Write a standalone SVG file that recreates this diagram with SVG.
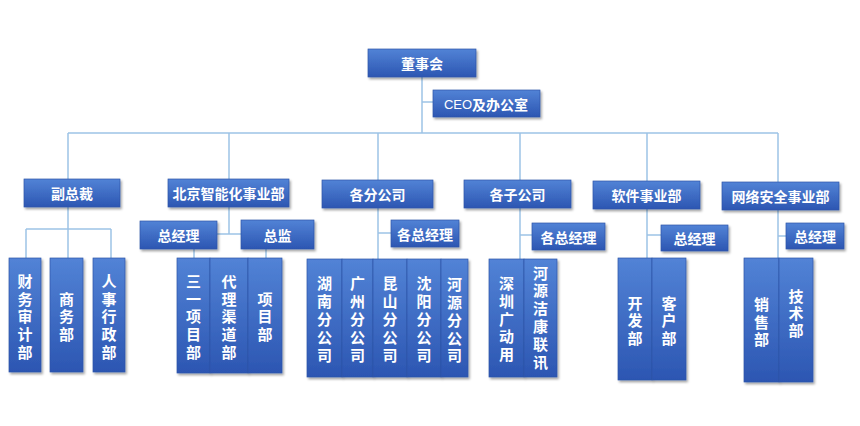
<svg xmlns="http://www.w3.org/2000/svg" width="860" height="426" viewBox="0 0 860 426">
<defs>
<linearGradient id="g" x1="0" y1="0" x2="0" y2="1">
<stop offset="0" stop-color="#5283d6"/>
<stop offset="1" stop-color="#2c56b2"/>
</linearGradient>
<filter id="sh" x="-20%" y="-20%" width="140%" height="140%">
<feDropShadow dx="1.5" dy="2" stdDeviation="1.3" flood-color="#000" flood-opacity="0.35"/>
</filter>
<style>
.b{fill:url(#g);stroke:#2f55a8;stroke-width:0.7;filter:url(#sh)}
.t{fill:#fff;font-family:"Noto Sans CJK SC","Noto Sans",sans-serif;font-weight:bold;font-size:14px;text-anchor:middle;dominant-baseline:central}
.v{fill:#fff;font-family:"Noto Sans CJK SC","Noto Sans",sans-serif;font-weight:bold;font-size:15px;text-anchor:middle;dominant-baseline:central}
.c{fill:none;stroke:#9dc3e6;stroke-width:1.5}
</style>
</defs>
<rect width="860" height="426" fill="#fff"/>
<g id="connectors">
<path class="c" d="M422 77V133M422 102H433M68 133H778M68 133V180M229 133V180M378 133V180M520 133V180M647 133V181M778 133V182"/>
<path class="c" d="M68 207V229M26 229H111M26 229V258M68 229V258M111 229V258"/>
<path class="c" d="M229 207V234M217 234H241M194 249V258M266 249V258"/>
<path class="c" d="M378 208V259M378 233H391"/>
<path class="c" d="M520 208V259M520 235H532"/>
<path class="c" d="M647 209V258M647 235H661"/>
<path class="c" d="M778 210V258M778 236H786"/>
</g>
<g id="board"><rect class="b" x="368" y="49" width="108" height="28"/><text class="t" x="422" y="63">董事会</text></g>
<g id="ceo"><rect class="b" x="433" y="90" width="107" height="27"/><text class="t" x="486" y="103.5"><tspan font-weight="normal" font-family="Liberation Sans,sans-serif" font-size="13">CEO</tspan>及办公室</text></g>
<g id="vp"><rect class="b" x="24" y="179" width="96" height="28"/><text class="t" x="72" y="193">副总裁</text></g>
<g id="beijing"><rect class="b" x="168" y="179" width="121" height="28"/><text class="t" x="228.5" y="193">北京智能化事业部</text></g>
<g id="branches"><rect class="b" x="322" y="180" width="111" height="28"/><text class="t" x="377.5" y="194">各分公司</text></g>
<g id="subsidiaries"><rect class="b" x="464" y="180" width="107" height="28"/><text class="t" x="517.5" y="194">各子公司</text></g>
<g id="software"><rect class="b" x="593" y="181" width="107" height="28"/><text class="t" x="646.5" y="195">软件事业部</text></g>
<g id="netsec"><rect class="b" x="722" y="182" width="117" height="28"/><text class="t" x="780.5" y="196">网络安全事业部</text></g>

<g id="bj-gm"><rect class="b" x="140" y="221" width="77" height="28"/><text class="t" x="178.5" y="235">总经理</text></g>
<g id="bj-dir"><rect class="b" x="241" y="220" width="73" height="29"/><text class="t" x="277.5" y="234.5">总监</text></g>
<g id="br-gm"><rect class="b" x="391" y="220" width="68" height="27"/><text class="t" x="425" y="233.5">各总经理</text></g>
<g id="sub-gm"><rect class="b" x="532" y="223" width="73" height="27"/><text class="t" x="568.5" y="236.5">各总经理</text></g>
<g id="sw-gm"><rect class="b" x="661" y="225" width="67" height="26"/><text class="t" x="694.5" y="238">总经理</text></g>
<g id="ns-gm"><rect class="b" x="786" y="223" width="58" height="26"/><text class="t" x="815" y="236">总经理</text></g>

<g id="finance"><rect class="b" x="9" y="258" width="32" height="114"/><text class="v"><tspan x="25" y="280">财</tspan><tspan x="25" y="298">务</tspan><tspan x="25" y="315">审</tspan><tspan x="25" y="333">计</tspan><tspan x="25" y="351">部</tspan></text></g>
<g id="business"><rect class="b" x="50" y="258" width="33" height="114"/><text class="v"><tspan x="66.5" y="298">商</tspan><tspan x="66.5" y="315">务</tspan><tspan x="66.5" y="333">部</tspan></text></g>
<g id="hr"><rect class="b" x="93" y="258" width="32" height="114"/><text class="v"><tspan x="109" y="280">人</tspan><tspan x="109" y="298">事</tspan><tspan x="109" y="315">行</tspan><tspan x="109" y="333">政</tspan><tspan x="109" y="351">部</tspan></text></g>

<g id="sany"><rect class="b" x="177" y="258" width="33" height="115"/><text class="v"><tspan x="193.5" y="280">三</tspan><tspan x="193.5" y="298">一</tspan><tspan x="193.5" y="315">项</tspan><tspan x="193.5" y="333">目</tspan><tspan x="193.5" y="351">部</tspan></text></g>
<g id="agent"><rect class="b" x="210" y="258" width="38" height="115"/><text class="v"><tspan x="229" y="280">代</tspan><tspan x="229" y="298">理</tspan><tspan x="229" y="315">渠</tspan><tspan x="229" y="333">道</tspan><tspan x="229" y="351">部</tspan></text></g>
<g id="project"><rect class="b" x="248" y="258" width="34" height="115"/><text class="v"><tspan x="265" y="298">项</tspan><tspan x="265" y="315">目</tspan><tspan x="265" y="333">部</tspan></text></g>

<g id="hunan"><rect class="b" x="307" y="259" width="35" height="118"/><text class="v"><tspan x="324.5" y="282">湖</tspan><tspan x="324.5" y="300">南</tspan><tspan x="324.5" y="318">分</tspan><tspan x="324.5" y="336">公</tspan><tspan x="324.5" y="354">司</tspan></text></g>
<g id="guangzhou"><rect class="b" x="342" y="259" width="31" height="118"/><text class="v"><tspan x="357.5" y="282">广</tspan><tspan x="357.5" y="300">州</tspan><tspan x="357.5" y="318">分</tspan><tspan x="357.5" y="336">公</tspan><tspan x="357.5" y="354">司</tspan></text></g>
<g id="kunshan"><rect class="b" x="373" y="259" width="34" height="118"/><text class="v"><tspan x="390" y="282">昆</tspan><tspan x="390" y="300">山</tspan><tspan x="390" y="318">分</tspan><tspan x="390" y="336">公</tspan><tspan x="390" y="354">司</tspan></text></g>
<g id="shenyang"><rect class="b" x="407" y="259" width="34" height="118"/><text class="v"><tspan x="424" y="282">沈</tspan><tspan x="424" y="300">阳</tspan><tspan x="424" y="318">分</tspan><tspan x="424" y="336">公</tspan><tspan x="424" y="354">司</tspan></text></g>
<g id="heyuan"><rect class="b" x="441" y="259" width="27" height="118"/><text class="v"><tspan x="454.5" y="283">河</tspan><tspan x="454.5" y="301">源</tspan><tspan x="454.5" y="319">分</tspan><tspan x="454.5" y="337">公</tspan><tspan x="454.5" y="354">司</tspan></text></g>

<g id="shenzhen"><rect class="b" x="489" y="259" width="35" height="118"/><text class="v"><tspan x="506.5" y="282">深</tspan><tspan x="506.5" y="300">圳</tspan><tspan x="506.5" y="318">广</tspan><tspan x="506.5" y="335">动</tspan><tspan x="506.5" y="353">用</tspan></text></g>
<g id="heyuan-jk"><rect class="b" x="524" y="259" width="33" height="118"/><text class="v"><tspan x="540.5" y="272">河</tspan><tspan x="540.5" y="289">源</tspan><tspan x="540.5" y="307">洁</tspan><tspan x="540.5" y="325">康</tspan><tspan x="540.5" y="343">联</tspan><tspan x="540.5" y="361">讯</tspan></text></g>

<g id="dev"><rect class="b" x="618" y="258" width="34" height="122"/><text class="v"><tspan x="635" y="302">开</tspan><tspan x="635" y="319">发</tspan><tspan x="635" y="337">部</tspan></text></g>
<g id="client"><rect class="b" x="652" y="258" width="34" height="122"/><text class="v"><tspan x="669" y="302">客</tspan><tspan x="669" y="319">户</tspan><tspan x="669" y="337">部</tspan></text></g>

<g id="sales"><rect class="b" x="744" y="258" width="35" height="124"/><text class="v"><tspan x="761.5" y="303">销</tspan><tspan x="761.5" y="321">售</tspan><tspan x="761.5" y="338">部</tspan></text></g>
<g id="tech"><rect class="b" x="779" y="258" width="34" height="124"/><text class="v"><tspan x="796" y="295">技</tspan><tspan x="796" y="312">术</tspan><tspan x="796" y="329">部</tspan></text></g>
</svg>
